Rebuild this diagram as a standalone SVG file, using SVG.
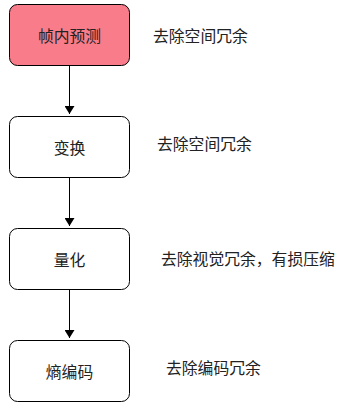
<svg xmlns="http://www.w3.org/2000/svg" width="347" height="411" viewBox="0 0 347 411">
<style>
.box{fill:#fff;stroke:#000;stroke-width:1}
.t{font-family:"Noto Sans CJK SC","Liberation Sans",sans-serif;font-size:15.8px;fill:#222;dominant-baseline:central}
.c{text-anchor:middle}
.e{stroke:#000;stroke-width:1;fill:none}
</style>
<defs>
<marker id="ah" viewBox="0 0 8 10" refX="8" refY="5" markerWidth="8" markerHeight="10" markerUnits="userSpaceOnUse" orient="auto">
<path d="M0,0 L8,5 L0,10 z" fill="#000"/>
</marker>
</defs>
<rect width="347" height="411" fill="#fff"/>
<g id="edges">
<path class="e" d="M69.5,65.5 V114" marker-end="url(#ah)"/>
<path class="e" d="M69.5,177.5 V226" marker-end="url(#ah)"/>
<path class="e" d="M69.5,289.5 V338" marker-end="url(#ah)"/>
</g>
<g id="n1">
<rect class="box" x="9.5" y="4.5" width="120" height="61" rx="8" style="fill:#F97C8B"/>
<text class="t c" x="69.5" y="35">帧内预测</text>
</g>
<g id="n2">
<rect class="box" x="9.5" y="116.5" width="120" height="61" rx="8"/>
<text class="t c" x="69.5" y="147">变换</text>
</g>
<g id="n3">
<rect class="box" x="9.5" y="228.5" width="120" height="61" rx="8"/>
<text class="t c" x="69.5" y="259">量化</text>
</g>
<g id="n4">
<rect class="box" x="9.5" y="340.5" width="120" height="61" rx="8"/>
<text class="t c" x="69.5" y="371">熵编码</text>
</g>
<g id="labels">
<text class="t" x="153" y="35">去除空间冗余</text>
<text class="t" x="157" y="143">去除空间冗余</text>
<text class="t" x="161" y="258">去除视觉冗余，有损压缩</text>
<text class="t" x="166" y="367">去除编码冗余</text>
</g>
</svg>
